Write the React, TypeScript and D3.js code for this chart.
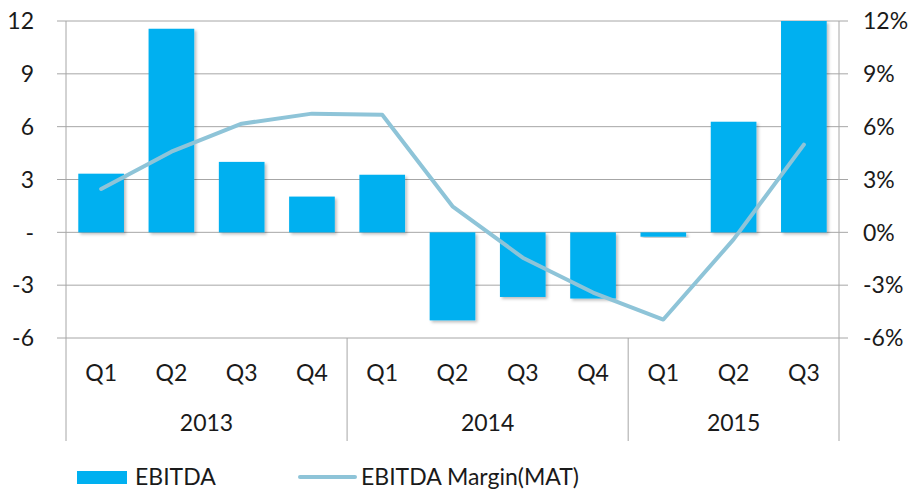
import React from "react";
import * as d3 from "d3";

const quarters = ["Q1", "Q2", "Q3", "Q4", "Q1", "Q2", "Q3", "Q4", "Q1", "Q2", "Q3"];
const years = ["2013", "2014", "2015"];
const yearCounts = [4, 4, 3];
const ebitda = [3.33, 11.56, 4.0, 2.03, 3.27, -5.0, -3.67, -3.76, -0.25, 6.28, 12.0];
const margin = [2.46, 4.58, 6.17, 6.74, 6.68, 1.48, -1.44, -3.42, -4.95, -0.4, 4.98];
const leftTicks = [12, 9, 6, 3, 0, -3, -6];
const rightTicks = [12, 9, 6, 3, 0, -3, -6];

const W = 911;
const H = 491;
const X0 = 66;
const X1 = 839;
const Y0 = 21;
const Y1 = 338;
const FONT = "Lato, sans-serif";
const FS = 23;
const BAR = "#00B0F0";
const LINE = "#8EC4D8";
const GRID = "#A6A6A6";
const TXT = "#1a1a1a";

export default function App() {
  const idx = quarters.map((_, i) => i);
  const x = d3.scaleBand<number>().domain(idx).range([X0, X1]).paddingInner(0.35).paddingOuter(0.175);
  const step = (X1 - X0) / quarters.length;
  const xc = (i: number) => X0 + step * (i + 0.5);
  const y = d3.scaleLinear().domain([-6, 12]).range([Y1, Y0]);
  const yr = d3.scaleLinear().domain([-6, 12]).range([Y1, Y0]);
  const line = d3
    .line<number>()
    .x((_, i) => xc(i))
    .y((d) => yr(d));
  let acc = 0;
  const yearPos = yearCounts.map((c) => {
    const s = acc;
    acc += c;
    return { s, e: acc };
  });

  return (
    <svg width={W} height={H} style={{ position: "absolute", left: 0, top: 0, background: "#fff" }}>
      <defs>
        <filter id="sh" x="-20%" y="-20%" width="140%" height="140%">
          <feDropShadow dx="2" dy="2" stdDeviation="1.5" floodColor="#000" floodOpacity="0.25" />
        </filter>
      </defs>
      {leftTicks.map((t) => (
        <g key={"g" + t}>
          <line x1={57} x2={848} y1={y(t)} y2={y(t)} stroke={GRID} strokeWidth={1} />
          <text x={34} y={y(t)} dy="0.36em" textAnchor="end" fontFamily={FONT} fontSize={FS} fill={TXT}>
            {t === 0 ? "-" : t}
          </text>
        </g>
      ))}
      {rightTicks.map((t) => (
        <text key={"r" + t} x={863} y={yr(t)} dy="0.36em" textAnchor="start" fontFamily={FONT} fontSize={FS} fill={TXT}>
          {t + "%"}
        </text>
      ))}
      <line x1={X0} x2={X0} y1={Y0} y2={441} stroke={GRID} />
      <line x1={X1} x2={X1} y1={Y0} y2={441} stroke={GRID} />
      {yearPos.slice(0, -1).map((p, i) => (
        <line key={"s" + i} x1={X0 + p.e * step} x2={X0 + p.e * step} y1={Y1} y2={441} stroke={GRID} />
      ))}
      {ebitda.map((v, i) => (
        <rect
          key={"b" + i}
          x={x(i)}
          width={x.bandwidth()}
          y={Math.min(y(v), y(0))}
          height={Math.abs(y(v) - y(0))}
          fill={BAR}
          filter="url(#sh)"
        />
      ))}
      <path d={line(margin) || ""} fill="none" stroke={LINE} strokeWidth={4} strokeLinejoin="round" strokeLinecap="round" />
      {quarters.map((q, i) => (
        <text key={"q" + i} x={xc(i)} y={373} dy="0.36em" textAnchor="middle" fontFamily={FONT} fontSize={FS} fill={TXT}>
          {q}
        </text>
      ))}
      {years.map((yv, i) => (
        <text
          key={"y" + i}
          x={X0 + ((yearPos[i].s + yearPos[i].e) / 2) * step}
          y={423}
          dy="0.36em"
          textAnchor="middle"
          fontFamily={FONT}
          fontSize={FS}
          fill={TXT}
        >
          {yv}
        </text>
      ))}
      <rect x={77} y={471} width={50} height={13} fill={BAR} />
      <text x={135} y={477} dy="0.36em" fontFamily={FONT} fontSize={FS} fill={TXT}>
        EBITDA
      </text>
      <line x1={300} x2={355} y1={477} y2={477} stroke={LINE} strokeWidth={4} strokeLinecap="round" />
      <text x={361} y={477} dy="0.36em" fontFamily={FONT} fontSize={FS} fill={TXT}>
        EBITDA Margin(MAT)
      </text>
    </svg>
  );
}
